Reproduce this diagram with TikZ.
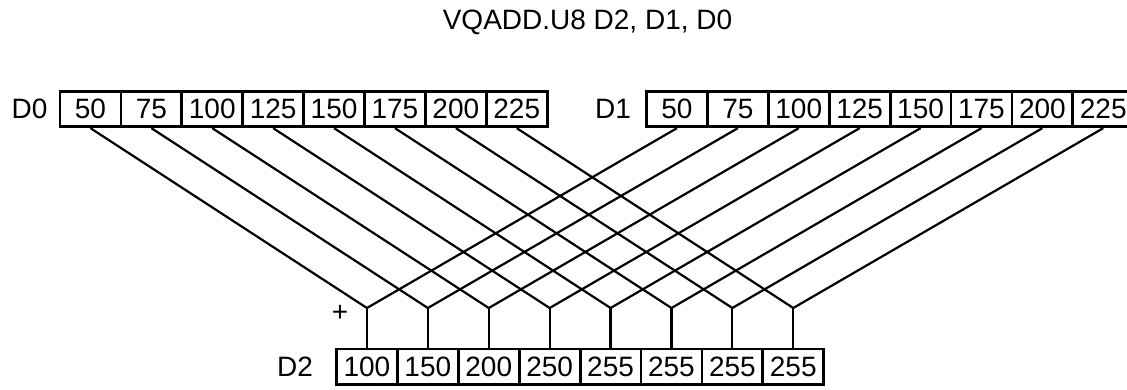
\documentclass[tikz,border=0pt]{standalone}
\usepackage{fontspec}
\setmainfont{Liberation Sans}
\usetikzlibrary{positioning}

\begin{document}
\begin{tikzpicture}[
  x=1pt, y=-1pt,
  lane/.style={rectangle, draw, line width=2.8pt, inner sep=0pt, minimum width=60.9pt, minimum height=35.5pt, font=\fontsize{28}{30}\selectfont},
  reg/.style={inner sep=0pt, font=\fontsize{28}{30}\selectfont},
  wire/.style={line width=2.2pt, line join=miter}
]
\useasboundingbox (0,0) rectangle (1127,389);

% Title
\node[reg] (title) at (587.5,22) {VQADD.U8 D2, D1, D0};

% Register names
\node[reg] (d0) at (29.5,109) {D0};
\node[reg] (d1) at (613,109) {D1};
\node[reg] (d2) at (295,367) {D2};
\node[reg] (plus) at (340,313) {+};

% Lanes: D0 and D1 feed each adder, result goes down to D2
\foreach \a/\r [count=\i from 0] in {50/100, 75/150, 100/200, 125/250, 150/255, 175/255, 200/255, 225/255} {
  \coordinate (j-\i) at ({366.95+60.9*\i},308);
  \node[lane] (d0-\i) at ({90.45+60.9*\i},109) {\a};
  \node[lane] (d1-\i) at ({676.95+60.9*\i},109) {\a};
  \node[lane] (d2-\i) at ({366.95+60.9*\i},366.8) {\r};
  \draw[wire] (d0-\i.south) -- (j-\i) -- (d1-\i.south);
  \draw[wire] (j-\i) -- (d2-\i.north);
}

\end{tikzpicture}
\end{document}
